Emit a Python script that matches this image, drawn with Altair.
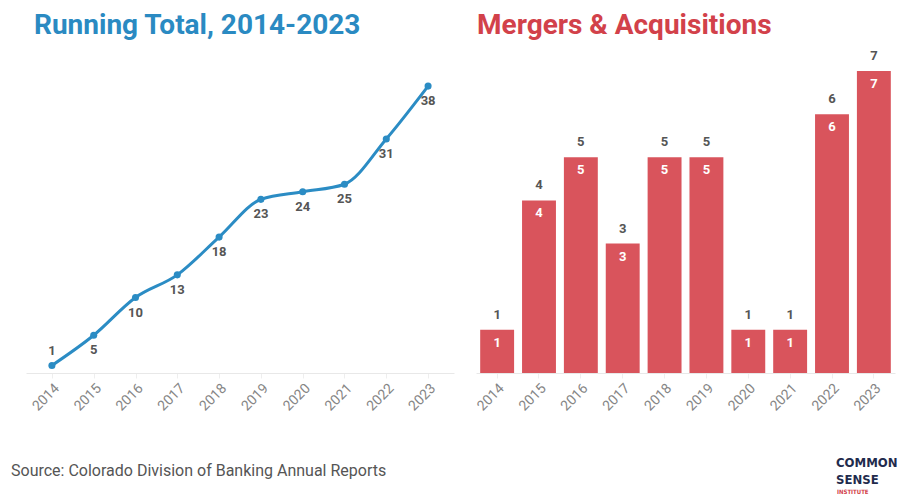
import altair as alt
import pandas as pd

years = ["2014", "2015", "2016", "2017", "2018", "2019", "2020", "2021", "2022", "2023"]
running_total = [1, 5, 10, 13, 18, 23, 24, 25, 31, 38]
mergers = [1, 4, 5, 3, 5, 5, 1, 1, 6, 7]

title_left = "Running Total, 2014-2023"
title_right = "Mergers & Acquisitions"
source_note = "Source: Colorado Division of Banking Annual Reports"
logo_lines = ["COMMON", "SENSE"]
logo_sub = "INSTITUTE"

FONT = "Roboto"
BLUE = "#2b8cc4"
RED = "#d9545c"
TITLE_BLUE = "#2a8ac2"
TITLE_RED = "#d2414a"
LABEL = "#555555"

df_line = pd.DataFrame({"year": years, "total": running_total})
df_bar = pd.DataFrame({"year": years, "count": mergers})

axis_x = alt.Axis(
    title=None, labelAngle=-45, labelColor="#858585", labelFontSize=14,
    labelFont=FONT, domainColor="#e8e8e8", tickColor="#eeeeee", tickSize=5,
    labelPadding=3, grid=False,
)


def title_mark(text, color, xpos):
    return alt.Chart(pd.DataFrame({"t": [text]})).mark_text(
        align="left", baseline="alphabetic", font=FONT, fontSize=28,
        fontWeight="bold", color=color
    ).encode(x=alt.value(xpos), y=alt.value(-37), text="t:N")


xl = alt.X("year:O", scale=alt.Scale(type="point", padding=0.62), axis=axis_x)
yl = alt.Y("total:Q", scale=alt.Scale(domain=[0, 40]), axis=None)

base_l = alt.Chart(df_line).encode(x=xl, y=yl)
line = base_l.mark_line(color=BLUE, strokeWidth=3, interpolate="monotone")
pts = base_l.mark_circle(color=BLUE, size=50, opacity=1)
lab_below = base_l.transform_filter(alt.datum.year != "2014").mark_text(
    dy=15, font=FONT, fontSize=13, fontWeight="bold", color=LABEL
).encode(text="total:Q")
lab_above = base_l.transform_filter(alt.datum.year == "2014").mark_text(
    dy=-14, font=FONT, fontSize=13, fontWeight="bold", color=LABEL
).encode(text="total:Q")

src = alt.Chart(pd.DataFrame({"t": [source_note]})).mark_text(
    align="left", baseline="alphabetic", font=FONT, fontSize=16, color="#555555"
).encode(x=alt.value(-15), y=alt.value(405), text="t:N")

left = alt.layer(title_mark(title_left, TITLE_BLUE, 8), line, pts, lab_below,
                 lab_above, src).properties(width=428, height=302)

xb = alt.X("year:O", scale=alt.Scale(type="band", paddingInner=0.19, paddingOuter=0.1), axis=axis_x)
yb = alt.Y("count:Q", scale=alt.Scale(domain=[0, 7]), axis=None)
base_b = alt.Chart(df_bar).encode(x=xb, y=yb)
bars = base_b.mark_bar(color=RED)
bl_above = base_b.mark_text(dy=-8, baseline="bottom", font=FONT, fontSize=13,
                            fontWeight="bold", color=LABEL).encode(text="count:Q")
bl_in = base_b.mark_text(dy=13, baseline="middle", font=FONT, fontSize=13,
                         fontWeight="bold", color="white").encode(text="count:Q")

logo_df = pd.DataFrame({"t": logo_lines, "yy": [396, 413]})
logo = alt.Chart(logo_df).mark_text(
    align="left", baseline="alphabetic", font="DejaVu Sans Condensed",
    fontSize=13, fontWeight="bold", color="#1f2b4d"
).encode(x=alt.value(360), y=alt.Y("yy:Q", scale=None), text="t:N")
logo2 = alt.Chart(pd.DataFrame({"t": [logo_sub]})).mark_text(
    align="left", baseline="alphabetic", font="DejaVu Sans Condensed",
    fontSize=6, fontWeight="bold", color=TITLE_RED
).encode(x=alt.value(361), y=alt.value(423), text="t:N")

right = alt.layer(title_mark(title_right, TITLE_RED, 1),
                  bars, bl_above, bl_in, logo, logo2).properties(width=419, height=302)

chart = alt.hconcat(left, right, spacing=20).properties(
    padding={"left": 3, "top": 4, "right": 0, "bottom": 0}
).configure_view(stroke=None)

chart.save("out.html", embed_options={"renderer": "svg", "actions": False})
